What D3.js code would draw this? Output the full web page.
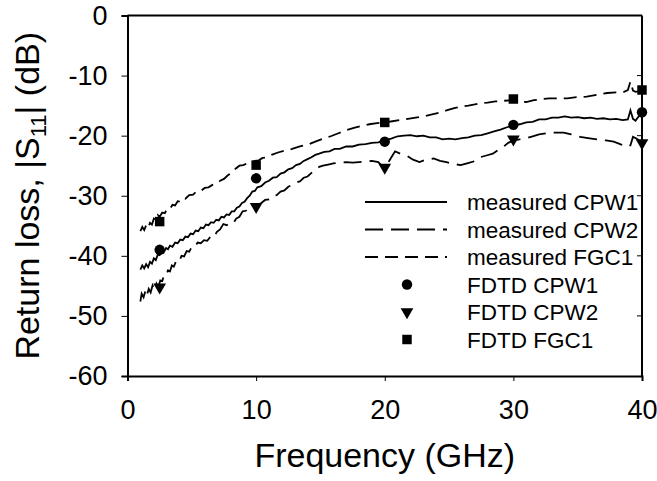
<!DOCTYPE html>
<html>
<head>
<meta charset="utf-8">
<script src="https://cdn.jsdelivr.net/npm/d3@7"></script>
<style>
  body { margin: 0; background: #fff; }
  text { font-family: "Liberation Sans", Arial, sans-serif; fill: #000; }
</style>
</head>
<body>
<svg id="chart" width="657" height="481"></svg>
<script>
// Return loss |S11| vs frequency: measured sweeps + FDTD points.

const xTicks = [0, 10, 20, 30, 40];
const yTicks = [0, -10, -20, -30, -40, -50, -60];

// measured sweeps, [GHz, dB]
const cpw1 = [
  [1.0,-42.3],[1.15,-41.6],[1.3,-42.1],[1.45,-41.4],[1.6,-41.9],[1.75,-41.0],[1.9,-41.3],[2.05,-40.4],
  [2.2,-40.7],[2.35,-39.8],[2.5,-39.9],[2.65,-39.3],[2.8,-39.5],[3.0,-38.7],[3.15,-38.9],[3.3,-38.3],
  [3.5,-38.5],[3.7,-37.8],[3.9,-37.9],[4.1,-37.3],[4.3,-37.4],[4.5,-36.8],[4.7,-36.9],[4.9,-36.3],
  [5.1,-36.4],[5.3,-35.8],[5.5,-35.9],[5.7,-35.3],[5.9,-35.4],[6.1,-34.8],[6.3,-34.9],[6.5,-34.4],
  [6.7,-34.5],[6.9,-34.0],[7.1,-34.1],[7.3,-33.5],[7.5,-33.6],[7.7,-33.1],[7.9,-33.2],[8.1,-32.6],
  [8.3,-32.6],[8.5,-32.0],[8.7,-31.8],[8.9,-31.2],[9.1,-31.0],[9.3,-30.4],[9.5,-30.0],[9.7,-29.3],
  [9.9,-29.2],[10.1,-28.6],[10.4,-28.4],[10.7,-27.8],[11.0,-27.5],[11.3,-27.0],[11.6,-26.9],[11.9,-26.3],
  [12.2,-26.1],[12.5,-25.6],[12.8,-25.4],[13.1,-24.9],[13.4,-24.7],[13.7,-24.2],[14.0,-23.9],[14.3,-23.6],
  [14.6,-23.2],[14.9,-23.0],[15.3,-22.7],[15.7,-22.6],[16.1,-22.2],[16.5,-22.2],[17.0,-21.8],[17.5,-21.8],
  [18.0,-21.5],[18.5,-21.4],[19.0,-21.2],[19.5,-21.1],[20.0,-20.8],[20.5,-20.5],[21.0,-20.1],[21.5,-20.0],
  [22.0,-19.9],[22.5,-20.1],[23.0,-20.0],[23.5,-20.3],[24.0,-20.3],[24.5,-20.6],[25.0,-20.5],[25.5,-20.6],
  [26.0,-20.4],[26.5,-20.3],[27.0,-20.0],[27.5,-19.9],[28.0,-19.6],[28.5,-19.3],[29.0,-19.0],[29.5,-18.6],
  [30.0,-18.3],[30.5,-18.1],[31.0,-17.8],[31.5,-17.7],[32.0,-17.3],[32.5,-17.3],[33.0,-17.0],[33.5,-17.0],
  [34.0,-16.8],[34.5,-17.0],[35.0,-16.9],[35.5,-17.1],[36.0,-17.0],[36.5,-17.2],[37.0,-17.1],[37.5,-17.3],
  [38.0,-17.2],[38.5,-17.4],[38.9,-17.3],[39.1,-15.8],[39.3,-17.2],[39.5,-17.5],[39.7,-16.9],[40.0,-16.3]
];
const cpw2 = [
  [1.0,-47.6],[1.1,-46.3],[1.25,-46.9],[1.4,-45.8],[1.5,-46.6],[1.65,-45.5],[1.8,-46.1],[1.95,-44.9],
  [2.1,-45.6],[2.25,-44.6],[2.4,-45.2],[2.55,-44.1],[2.7,-44.2],[2.85,-43.2],[3.0,-43.3],[3.15,-42.4],
  [3.3,-42.6],[3.45,-41.6],[3.6,-41.8],[3.8,-40.8],[4.0,-41.0],[4.2,-40.0],[4.4,-40.1],[4.6,-39.2],
  [4.8,-39.3],[5.0,-38.5],[5.2,-38.6],[5.45,-37.8],[5.7,-37.9],[5.95,-37.4],[6.2,-37.5],[6.45,-36.8],
  [6.7,-37.0],[6.95,-36.0],[7.2,-35.6],[7.45,-34.7],[7.7,-34.9],[7.95,-34.6],[8.2,-34.7],[8.45,-33.8],
  [8.7,-33.5],[8.95,-32.6],[9.2,-32.5],[9.5,-32.0],[9.8,-32.1],[10.1,-31.6],[10.4,-31.2],[10.7,-30.7],
  [11.0,-30.6],[11.3,-30.0],[11.6,-29.9],[11.9,-29.3],[12.2,-29.1],[12.5,-28.5],[12.8,-28.2],[13.1,-27.8],
  [13.4,-27.6],[13.7,-27.0],[14.0,-26.8],[14.3,-26.2],[14.6,-25.8],[14.9,-25.2],[15.2,-25.0],[15.6,-24.8],
  [16.0,-24.6],[16.5,-24.5],[17.0,-24.4],[17.5,-24.5],[18.0,-24.4],[18.5,-24.3],[19.0,-24.2],[19.5,-24.4],
  [20.0,-25.5],[20.4,-24.0],[20.8,-22.6],[21.2,-23.0],[21.7,-23.3],[22.2,-24.0],[22.7,-24.4],[23.2,-24.0],
  [23.8,-23.8],[24.3,-24.2],[24.8,-24.4],[25.3,-24.7],[25.9,-24.9],[26.4,-24.6],[26.9,-24.3],[27.4,-23.6],
  [27.9,-23.3],[28.4,-23.0],[28.8,-22.4],[29.2,-21.9],[29.6,-21.2],[30.0,-20.8],[30.5,-20.6],[31.0,-20.4],
  [31.5,-20.1],[32.0,-19.8],[32.6,-19.6],[33.2,-19.5],[33.9,-19.5],[34.5,-19.8],[35.2,-20.2],[35.8,-20.4],
  [36.5,-20.6],[37.2,-20.8],[37.8,-21.0],[38.3,-21.4],[38.8,-21.9],[39.1,-21.6],[39.3,-20.2],[39.6,-20.5],
  [40.0,-21.2]
];
const fgc1 = [
  [1.0,-35.9],[1.15,-35.2],[1.3,-35.7],[1.45,-34.9],[1.6,-35.4],[1.75,-34.5],[1.9,-34.8],[2.05,-33.8],
  [2.2,-34.1],[2.35,-33.2],[2.5,-33.5],[2.7,-32.8],[2.9,-32.9],[3.1,-32.1],[3.3,-32.2],[3.5,-31.5],
  [3.7,-31.6],[3.9,-30.9],[4.1,-31.0],[4.3,-30.4],[4.5,-30.5],[4.8,-29.9],[5.1,-29.8],[5.4,-29.2],
  [5.7,-29.2],[6.0,-28.7],[6.3,-28.6],[6.6,-28.2],[6.9,-28.0],[7.2,-27.5],[7.5,-27.2],[7.8,-26.6],
  [8.1,-26.2],[8.4,-25.5],[8.7,-25.0],[9.0,-24.9],[9.3,-24.6],[9.6,-24.5],[9.9,-24.2],[10.2,-24.1],
  [10.5,-23.7],[10.8,-23.6],[11.2,-23.2],[11.7,-22.8],[12.2,-22.5],[12.8,-22.2],[13.4,-21.8],[14.0,-21.5],
  [14.6,-21.0],[15.2,-20.5],[15.8,-20.1],[16.4,-19.6],[17.0,-19.1],[17.6,-18.7],[18.2,-18.4],[18.8,-18.1],
  [19.4,-17.9],[20.0,-17.8],[20.6,-17.6],[21.2,-17.4],[21.8,-17.2],[22.4,-17.0],[23.0,-16.8],[23.6,-16.5],
  [24.2,-16.2],[24.8,-15.8],[25.4,-15.4],[25.9,-15.2],[26.5,-15.0],[27.0,-14.8],[27.4,-14.6],[28.0,-14.5],
  [28.6,-14.3],[29.2,-14.2],[29.8,-14.1],[30.4,-14.3],[31.0,-14.4],[31.6,-14.1],[32.2,-13.9],[32.8,-13.8],
  [33.5,-13.8],[34.2,-13.8],[34.9,-13.6],[35.7,-13.5],[36.5,-13.2],[37.3,-12.9],[38.0,-12.8],[38.6,-12.7],
  [38.9,-12.4],[39.1,-11.0],[39.3,-12.5],[39.5,-12.7],[39.8,-12.6],[40.0,-12.4]
];

// FDTD points
const fdtdFreq = [2.5, 10, 20, 30, 40];
const fdtdCpw1 = [-39.0, -27.1, -21.0, -18.2, -16.1];
const fdtdCpw2 = [-45.2, -31.8, -25.3, -20.6, -21.2];
const fdtdFgc1 = [-34.3, -24.9, -17.8, -13.9, -12.4];

const lineNames = ["measured CPW1", "measured CPW2", "measured FGC1"];
const markerNames = ["FDTD CPW1", "FDTD CPW2", "FDTD FGC1"];

const svg = d3.select("#chart");
const plotL = 127.5, plotR = 642, plotT = 15.5, plotB = 376;

const x = d3.scaleLinear().domain([0, 40]).range([plotL, plotR]);
const y = d3.scaleLinear().domain([-60, 0]).range([plotB, plotT]);

const dashes = ["none", "18,8", "13,7"];
const series = [cpw1, cpw2, fgc1];

const line = d3.line().x(d => x(d[0])).y(d => y(d[1]));

series.forEach((s, i) => {
  svg.append("path")
    .attr("d", line(s))
    .attr("fill", "none")
    .attr("stroke", "#000")
    .attr("stroke-width", 1.8)
    .attr("stroke-dasharray", dashes[i]);
});

const symbols = [d3.symbolCircle, d3.symbolTriangle, d3.symbolSquare];
const symSizes = [85, 70, 90];
const fdtd = [fdtdCpw1, fdtdCpw2, fdtdFgc1];

function marker(g, k, cx, cy) {
  g.append("path")
    .attr("d", d3.symbol().type(symbols[k]).size(symSizes[k])())
    .attr("transform", `translate(${cx},${cy})` + (k === 1 ? " rotate(180)" : ""))
    .attr("fill", "#000");
}

fdtd.forEach((vals, k) => {
  vals.forEach((v, j) => marker(svg, k, x(fdtdFreq[j]), y(v)));
});

// axes
const gx = svg.append("g")
  .attr("transform", `translate(0,${plotB})`)
  .call(d3.axisBottom(x).tickValues(xTicks).tickSize(5).tickPadding(19).tickFormat(d3.format("d")));
const gy = svg.append("g")
  .attr("transform", `translate(${plotL},0)`)
  .call(d3.axisLeft(y).tickValues(yTicks).tickSize(6).tickPadding(14).tickFormat(d => d));

[gx, gy].forEach(g => {
  g.select(".domain").attr("stroke-width", 2).attr("stroke", "#000");
  g.selectAll(".tick line").attr("stroke", "#000").attr("stroke-width", 1);
  g.selectAll("text").attr("font-size", 27).attr("font-family", "Liberation Sans, Arial, sans-serif");
});

// box top and right edges
svg.append("line").attr("x1", plotL).attr("x2", plotR).attr("y1", plotT).attr("y2", plotT)
  .attr("stroke", "#000").attr("stroke-width", 2);
svg.append("line").attr("x1", plotR).attr("x2", plotR).attr("y1", plotT).attr("y2", plotB)
  .attr("stroke", "#000").attr("stroke-width", 2);
svg.selectAll(".rtick").data(yTicks.slice(1, -1)).join("line")
  .attr("x1", plotR - 5).attr("x2", plotR)
  .attr("y1", d => y(d)).attr("y2", d => y(d))
  .attr("stroke", "#000");

// axis titles
svg.append("text")
  .attr("x", (plotL + plotR) / 2)
  .attr("y", 467)
  .attr("text-anchor", "middle")
  .attr("font-size", 34)
  .text("Frequency (GHz)");

const yt = svg.append("text")
  .attr("transform", `translate(39,${(plotT + plotB) / 2}) rotate(-90)`)
  .attr("text-anchor", "middle")
  .attr("font-size", 34);
yt.append("tspan").text("Return loss, |S");
yt.append("tspan").attr("font-size", 22).attr("dy", 7).text("11");
yt.append("tspan").attr("dy", -7).text("| (dB)");

// legend
const legY = [202, 229.5, 257, 284.5, 312, 339.5];
const leg = svg.append("g");
lineNames.forEach((name, i) => {
  leg.append("line")
    .attr("x1", 365).attr("x2", 447)
    .attr("y1", legY[i]).attr("y2", legY[i])
    .attr("stroke", "#000").attr("stroke-width", 1.8)
    .attr("stroke-dasharray", dashes[i]);
  leg.append("text").attr("x", 467).attr("y", legY[i] + 8)
    .attr("font-size", 22.5).text(name);
});
markerNames.forEach((name, k) => {
  marker(leg, k, 407, legY[k + 3]);
  leg.append("text").attr("x", 467).attr("y", legY[k + 3] + 8)
    .attr("font-size", 22.5).text(name);
});
</script>
</body>
</html>
